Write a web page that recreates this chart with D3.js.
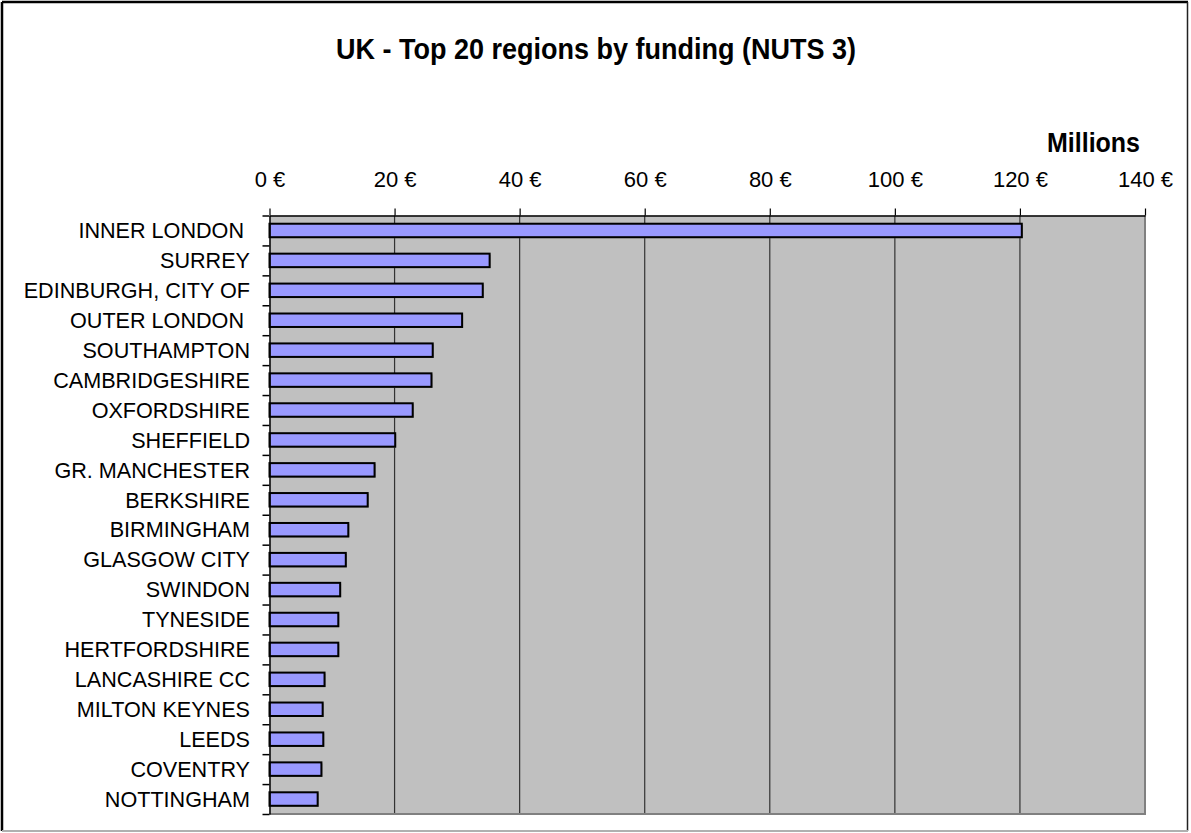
<!DOCTYPE html>
<html>
<head>
<meta charset="utf-8">
<script src="https://cdn.jsdelivr.net/npm/d3@7"></script>
<style>
  html, body { margin: 0; padding: 0; background: #fff; }
  svg { display: block; font-family: Arial, "Liberation Sans", sans-serif; }
</style>
</head>
<body>
<svg id="chart" width="1191" height="833"></svg>
<script>
// ---- data ----
const categories = [
  "INNER LONDON ", "SURREY", "EDINBURGH, CITY OF", "OUTER LONDON ", "SOUTHAMPTON",
  "CAMBRIDGESHIRE", "OXFORDSHIRE", "SHEFFIELD", "GR. MANCHESTER", "BERKSHIRE",
  "BIRMINGHAM", "GLASGOW CITY", "SWINDON", "TYNESIDE", "HERTFORDSHIRE",
  "LANCASHIRE CC", "MILTON KEYNES", "LEEDS", "COVENTRY", "NOTTINGHAM"
];
const values = [
  120.3, 35.2, 34.1, 30.8, 26.1,
  25.9, 22.9, 20.1, 16.8, 15.7,
  12.6, 12.2, 11.3, 11.0, 11.0,
  8.8, 8.5, 8.6, 8.3, 7.7
];
const tickValues = [0, 20, 40, 60, 80, 100, 120, 140];
const tickLabels = ["0 €", "20 €", "40 €", "60 €", "80 €", "100 €", "120 €", "140 €"];
const title = "UK - Top 20 regions by funding (NUTS 3)";
const unitLabel = "Millions";

// ---- layout ----
const svg = d3.select("#chart");
const W = 1191, H = 833;
const plot = { left: 269.5, right: 1145, top: 215.5, bottom: 814 };

// outer frame
svg.append("rect").attr("x", 0).attr("y", 0).attr("width", W).attr("height", H).attr("fill", "#fff");
svg.append("line").attr("x1", 2).attr("y1", 2).attr("x2", 2).attr("y2", 831).attr("stroke", "#000").attr("stroke-width", 2.5);
svg.append("line").attr("x1", 2).attr("y1", 2).attr("x2", 1188).attr("y2", 2).attr("stroke", "#000").attr("stroke-width", 2.5);
svg.append("line").attr("x1", 1187.5).attr("y1", 2).attr("x2", 1187.5).attr("y2", 831).attr("stroke", "#222").attr("stroke-width", 1.5);
svg.append("line").attr("x1", 2).attr("y1", 831).attr("x2", 1188).attr("y2", 831).attr("stroke", "#b0b0b0").attr("stroke-width", 2);

// title (slightly stretched vertically like the reference)
svg.append("text").attr("transform", "translate(596,58.5) scale(1,1.08)").attr("text-anchor", "middle")
  .attr("font-size", 27).attr("font-weight", "bold").attr("fill", "#000").text(title);

// scales
const x = d3.scaleLinear().domain([0, 140]).range([plot.left, plot.right]);
const y = d3.scaleBand().domain(categories).range([plot.top, plot.bottom])
  .paddingInner(0.55).paddingOuter(0.275);
const yEdges = d3.scaleLinear().domain([0, categories.length]).range([plot.top, plot.bottom]);

// plot background
svg.append("rect").attr("x", plot.left).attr("y", plot.top)
  .attr("width", plot.right - plot.left).attr("height", plot.bottom - plot.top)
  .attr("fill", "#c0c0c0");

// gridlines
svg.append("g").selectAll("line").data(tickValues.filter(d => d > 0 && d < 140)).join("line")
  .attr("x1", d => x(d)).attr("x2", d => x(d))
  .attr("y1", plot.top).attr("y2", plot.bottom)
  .attr("stroke", "#333").attr("stroke-width", 1.2);

// plot right/bottom border
svg.append("line").attr("x1", plot.right).attr("x2", plot.right).attr("y1", plot.top).attr("y2", plot.bottom + 1)
  .attr("stroke", "#808080").attr("stroke-width", 2);
svg.append("line").attr("x1", plot.left).attr("x2", plot.right + 1).attr("y1", plot.bottom).attr("y2", plot.bottom)
  .attr("stroke", "#808080").attr("stroke-width", 2);

// bars (shadow + bar)
svg.append("g").selectAll("rect").data(values).join("rect")
  .attr("x", x(0) + 1).attr("y", (d, i) => y(categories[i]) + 1)
  .attr("width", d => x(d) - x(0)).attr("height", y.bandwidth())
  .attr("fill", "#808080");
svg.append("g").selectAll("rect").data(values).join("rect")
  .attr("x", x(0)).attr("y", (d, i) => y(categories[i]))
  .attr("width", d => x(d) - x(0)).attr("height", y.bandwidth())
  .attr("fill", "#9999ff").attr("stroke", "#000").attr("stroke-width", 2);

// top axis
const topAxis = d3.axisTop(x).tickValues(tickValues)
  .tickFormat((d, i) => tickLabels[i]).tickSize(7).tickPadding(22).tickSizeOuter(0);
const gTop = svg.append("g").attr("transform", `translate(0,${plot.top})`).call(topAxis);
gTop.select(".domain").attr("stroke", "#000").attr("stroke-width", 1.5);
gTop.selectAll(".tick line").attr("stroke", "#000").attr("stroke-width", 1.2);
gTop.selectAll(".tick text").attr("font-size", 22).attr("font-family", "Arial, 'Liberation Sans', sans-serif").attr("fill", "#000");

// left axis (ticks at category boundaries)
const leftAxis = d3.axisLeft(yEdges).tickValues(d3.range(0, categories.length + 1))
  .tickFormat("").tickSize(7).tickSizeOuter(0);
const gLeft = svg.append("g").attr("transform", `translate(${plot.left},0)`).call(leftAxis);
gLeft.select(".domain").attr("stroke", "#000").attr("stroke-width", 1.5);
gLeft.selectAll(".tick line").attr("stroke", "#000").attr("stroke-width", 1.5);

// category labels
svg.append("g").selectAll("text").data(categories).join("text")
  .attr("x", 250).attr("y", d => y(d) + y.bandwidth() / 2).attr("dy", "0.36em")
  .attr("text-anchor", "end").attr("font-size", 21.6).attr("fill", "#000")
  .style("white-space", "pre").text(d => d);

// unit label
svg.append("text").attr("transform", "translate(1140,151.5) scale(1,1.08)").attr("text-anchor", "end")
  .attr("font-size", 25).attr("font-weight", "bold").attr("fill", "#000").text(unitLabel);
</script>
</body>
</html>
